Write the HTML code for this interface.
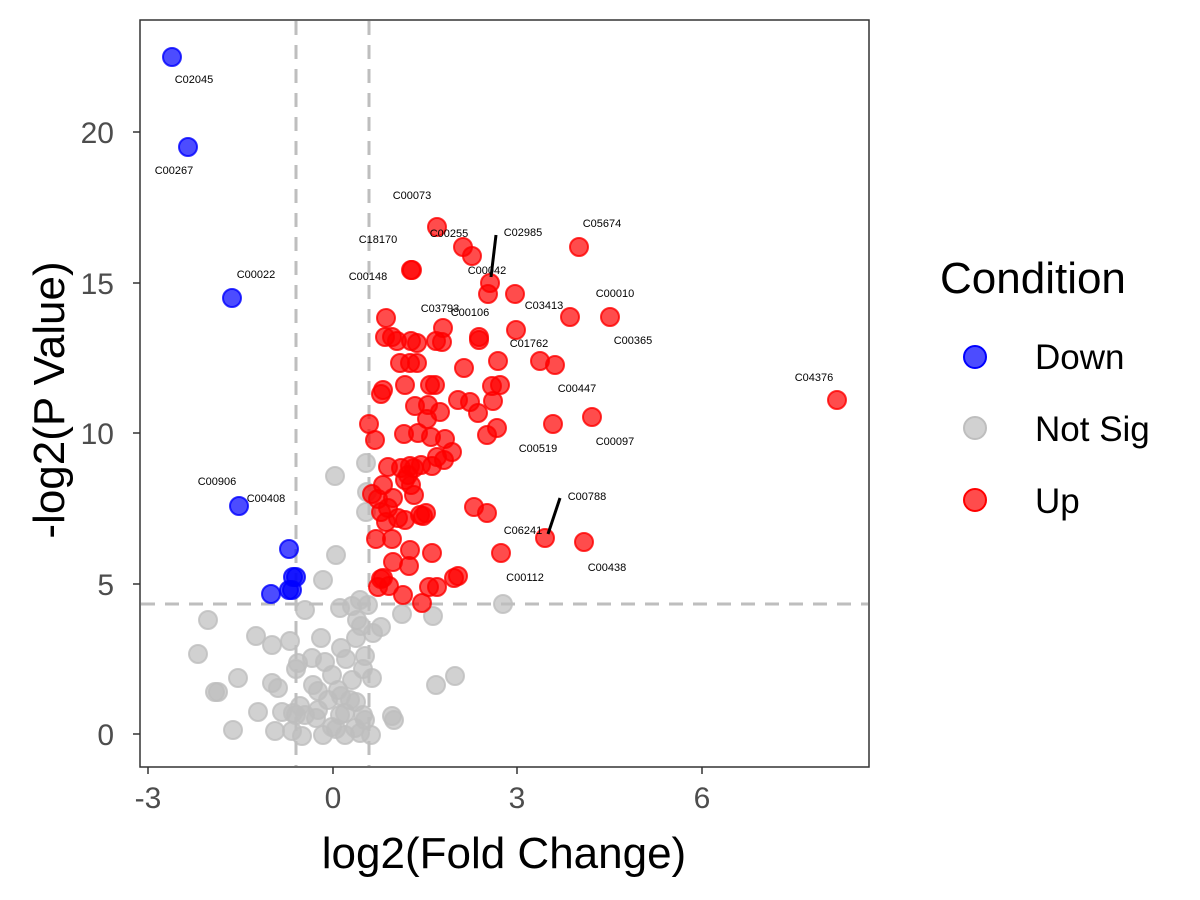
<!DOCTYPE html><html><head><meta charset="utf-8"><style>body{margin:0;background:#fff}svg{display:block}text{font-family:"Liberation Sans",sans-serif}</style></head><body>
<svg width="1200" height="900" viewBox="0 0 1200 900" xmlns="http://www.w3.org/2000/svg">
<rect x="140" y="20" width="729" height="747" fill="#fff" stroke="#333" stroke-width="1.5"/>
<g stroke="#bebebe" stroke-width="3" stroke-dasharray="14,10">
<line x1="296" y1="21" x2="296" y2="766"/><line x1="369" y1="21" x2="369" y2="766"/><line x1="141" y1="604" x2="868" y2="604"/></g>
<g id="pts"></g>
<g font-size="11" fill="#000" text-anchor="middle">
<text x="194" y="83">C02045</text><text x="174" y="174">C00267</text><text x="256" y="278">C00022</text><text x="217" y="485">C00906</text><text x="266" y="502">C00408</text><text x="412" y="199">C00073</text><text x="378" y="243">C18170</text><text x="449" y="237">C00255</text><text x="523" y="236">C02985</text><text x="602" y="227">C05674</text><text x="368" y="280">C00148</text><text x="487" y="274">C00042</text><text x="440" y="312">C03793</text><text x="470" y="316">C00106</text><text x="544" y="309">C03413</text><text x="615" y="297">C00010</text><text x="633" y="344">C00365</text><text x="529" y="347">C01762</text><text x="577" y="392">C00447</text><text x="814" y="381">C04376</text><text x="538" y="452">C00519</text><text x="615" y="445">C00097</text><text x="587" y="500">C00788</text><text x="523" y="534">C06241</text><text x="525" y="581">C00112</text><text x="607" y="571">C00438</text></g>
<g stroke="#000" stroke-width="3"><line x1="496" y1="235" x2="491" y2="277"/><line x1="560" y1="498" x2="548" y2="534"/></g>
<g stroke="#333" stroke-width="1.5"><line x1="148" y1="767" x2="148" y2="774"/><line x1="333" y1="767" x2="333" y2="774"/><line x1="517" y1="767" x2="517" y2="774"/><line x1="702" y1="767" x2="702" y2="774"/>
<line x1="133" y1="734" x2="140" y2="734"/><line x1="133" y1="584" x2="140" y2="584"/><line x1="133" y1="433" x2="140" y2="433"/><line x1="133" y1="283" x2="140" y2="283"/><line x1="133" y1="132" x2="140" y2="132"/></g>
<g font-size="30" fill="#4d4d4d" text-anchor="middle"><text x="148" y="808">-3</text><text x="333" y="808">0</text><text x="517" y="808">3</text><text x="702" y="808">6</text></g>
<g font-size="30" fill="#4d4d4d" text-anchor="end"><text x="114" y="745">0</text><text x="114" y="595">5</text><text x="114" y="444">10</text><text x="114" y="294">15</text><text x="114" y="143">20</text></g>
<text x="504" y="868" font-size="44" text-anchor="middle">log2(Fold Change)</text>
<text transform="translate(64,400) rotate(-90)" font-size="44" text-anchor="middle">-log2(P Value)</text>
<text x="940" y="293" font-size="44">Condition</text>
<circle cx="975" cy="357" r="11" fill="rgba(0,0,255,0.7)" stroke="#00f" stroke-width="2"/>
<circle cx="975" cy="428" r="11" fill="rgba(190,190,190,0.7)" stroke="#bebebe" stroke-width="2"/>
<circle cx="975" cy="500" r="11" fill="rgba(255,0,0,0.7)" stroke="#f00" stroke-width="2"/>
<g font-size="35"><text x="1035" y="369">Down</text><text x="1035" y="441">Not Sig</text><text x="1035" y="513">Up</text></g>
</svg>
<script>
const g=document.getElementById('pts');
const grey=[[208,620],[198,654],[215,692],[218,692],[238,678],[233,730],[258,712],[256,636],[272,645],[272,683],[278,688],[282,712],[275,731],[293,713],[292,731],[290,641],[298,663],[296,669],[305,610],[323,580],[336,555],[335,476],[366,463],[367,492],[366,512],[352,606],[357,620],[381,627],[402,614],[433,616],[436,685],[455,676],[503,604],[361,626],[373,633],[365,656],[363,669],[341,648],[346,659],[325,662],[332,675],[318,691],[321,638],[313,685],[316,718],[323,735],[332,727],[340,715],[345,735],[350,700],[356,702],[360,733],[365,720],[371,735],[363,715],[392,716],[394,720],[312,658],[338,690],[352,680],[372,678],[356,638],[360,600],[340,608],[328,700],[345,713],[318,710],[305,715],[355,728],[296,715],[300,706],[336,729],[302,736],[368,605],[341,696]];
const blue=[[172,57],[188,147],[232,298],[239,506],[289,549],[293,577],[296,577],[289,590],[271,594],[292,590]];
const red=[[437,227],[463,247],[472,256],[412,270],[411,270],[490,283],[488,294],[515,294],[386,318],[443,328],[479,337],[479,340],[516,330],[570,317],[610,317],[579,247],[837,400],[385,337],[392,337],[397,341],[411,341],[417,343],[436,341],[442,342],[498,361],[540,361],[555,365],[400,363],[410,363],[417,363],[435,385],[383,390],[381,394],[405,385],[464,368],[430,385],[492,386],[500,385],[458,400],[470,402],[478,413],[493,401],[497,428],[487,435],[553,424],[592,417],[369,424],[375,440],[404,434],[418,433],[427,419],[431,437],[445,439],[440,412],[428,405],[415,406],[452,452],[388,467],[401,468],[410,466],[414,468],[421,465],[432,466],[437,457],[444,460],[372,494],[383,485],[388,508],[393,498],[405,480],[411,485],[408,475],[386,522],[398,518],[405,520],[420,515],[423,516],[376,539],[392,539],[410,550],[432,553],[474,507],[487,513],[545,538],[584,542],[501,553],[409,566],[429,587],[437,587],[422,603],[458,576],[454,578],[389,586],[383,578],[393,562],[378,587],[403,595],[381,512],[378,499],[381,579],[414,495],[426,513]];
function add(a,f,s){for(const[x,y]of a){const c=document.createElementNS('http://www.w3.org/2000/svg','circle');c.setAttribute('cx',x);c.setAttribute('cy',y);c.setAttribute('r',9);c.setAttribute('fill',f);c.setAttribute('stroke',s);c.setAttribute('stroke-width',2);g.appendChild(c);}}
add(grey,'rgba(190,190,190,0.7)','rgba(190,190,190,0.8)');add(blue,'rgba(0,0,255,0.7)','rgba(0,0,255,0.8)');add(red,'rgba(255,0,0,0.7)','rgba(255,0,0,0.8)');
</script></body></html>
